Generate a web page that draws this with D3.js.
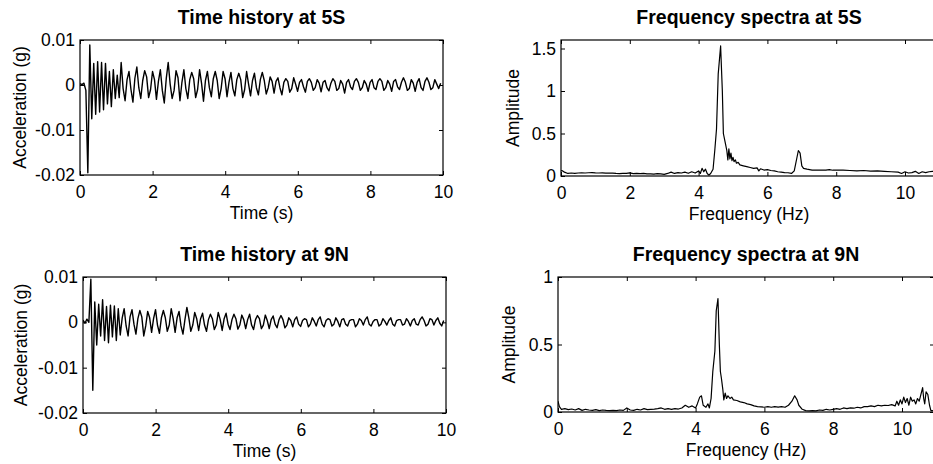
<!DOCTYPE html>
<html>
<head>
<meta charset="utf-8">
<script src="https://cdn.jsdelivr.net/npm/d3@7"></script>
<style>
  body { margin: 0; background: #fff; }
  svg { display: block; font-family: "Liberation Sans", Arial, Helvetica, sans-serif; }
</style>
</head>
<body>
<script>
// sample step of the time histories (s)
const dt = 0.054;

// acceleration at 5S (g)
const acc5S = [
  0.0003, 0.0001, 0.0004, -0.0012,
  -0.0195, 0.0089, -0.0075, 0.0048,
  -0.0065, 0.0052, -0.0060, 0.0050,
  -0.0055, 0.0048, -0.0042, 0.0030,
  -0.0048, 0.0034, -0.0030, 0.0022,
  -0.0028, 0.0050, -0.0008, -0.0035,
  0.0012, 0.0030, -0.0010, -0.0038,
  0.0015, 0.0040, -0.0006, -0.0030,
  0.0010, 0.0032, 0.0018, -0.0028,
  -0.0010, 0.0030, 0.0012, -0.0032,
  0.0008, 0.0034, -0.0012, -0.0040,
  0.0014, 0.0050, 0.0002, -0.0030,
  -0.0012, 0.0032, 0.0016, -0.0035,
  0.0006, 0.0034, -0.0008, -0.0030,
  0.0012, 0.0028, 0.0014, -0.0028,
  -0.0010, 0.0034, 0.0004, -0.0036,
  0.0010, 0.0030, -0.0006, -0.0026,
  0.0014, 0.0030, 0.0010, -0.0030,
  -0.0008, 0.0030, 0.0014, -0.0026,
  0.0006, 0.0028, -0.0008, -0.0024,
  0.0012, 0.0026, 0.0012, -0.0028,
  -0.0010, 0.0030, 0.0002, -0.0024,
  0.0010, 0.0026, -0.0006, -0.0022,
  0.0012, 0.0028, 0.0010, -0.0020,
  -0.0006, 0.0018, 0.0008, -0.0018,
  0.0008, 0.0016, -0.0006, -0.0022,
  0.0006, 0.0014, 0.0008, -0.0016,
  -0.0008, 0.0016, 0.0002, -0.0014,
  0.0006, 0.0012, -0.0004, -0.0016,
  0.0008, 0.0014, 0.0006, -0.0012,
  -0.0006, 0.0012, 0.0004, -0.0015,
  0.0006, 0.0010, -0.0006, -0.0013,
  0.0004, 0.0014, 0.0008, -0.0012,
  -0.0008, 0.0010, 0.0002, -0.0018,
  0.0006, 0.0012, -0.0004, -0.0010,
  0.0008, 0.0014, 0.0006, -0.0012,
  -0.0006, 0.0010, 0.0002, -0.0014,
  0.0006, 0.0012, -0.0006, -0.0010,
  0.0008, 0.0014, 0.0008, -0.0012,
  -0.0006, 0.0010, 0.0002, -0.0014,
  0.0008, 0.0012, -0.0004, -0.0010,
  0.0006, 0.0016, 0.0006, -0.0012,
  -0.0008, 0.0012, 0.0004, -0.0014,
  0.0006, 0.0014, -0.0006, -0.0012,
  0.0008, 0.0016, 0.0006, -0.0010,
  -0.0006, 0.0012, 0.0002, -0.0008, 0.0004
];

// acceleration at 9N (g)
const acc9N = [
  0.0005, -0.0002, 0.0007, 0.0000,
  0.0095, -0.0150, 0.0045, -0.0050,
  0.0040, -0.0030, 0.0050, -0.0040,
  0.0035, -0.0045, 0.0038, -0.0032,
  0.0036, -0.0040, 0.0030, -0.0028,
  0.0010, 0.0030, -0.0008, -0.0030,
  0.0012, 0.0028, -0.0004, -0.0026,
  0.0008, 0.0026, 0.0012, -0.0030,
  -0.0008, 0.0024, 0.0010, -0.0022,
  0.0008, 0.0028, -0.0006, -0.0024,
  0.0010, 0.0026, 0.0010, -0.0020,
  -0.0006, 0.0030, 0.0008, -0.0022,
  0.0010, 0.0024, -0.0008, -0.0026,
  0.0006, 0.0033, 0.0010, -0.0020,
  -0.0006, 0.0022, 0.0008, -0.0018,
  0.0008, 0.0020, -0.0006, -0.0020,
  0.0006, 0.0018, 0.0008, -0.0016,
  -0.0006, 0.0022, 0.0006, -0.0018,
  0.0008, 0.0020, -0.0004, -0.0016,
  0.0006, 0.0018, 0.0008, -0.0015,
  -0.0006, 0.0016, 0.0006, -0.0014,
  0.0006, 0.0018, -0.0006, -0.0016,
  0.0006, 0.0015, 0.0008, -0.0014,
  -0.0006, 0.0016, 0.0004, -0.0014,
  0.0006, 0.0014, -0.0004, -0.0012,
  0.0006, 0.0015, 0.0006, -0.0012,
  -0.0006, 0.0010, 0.0004, -0.0010,
  0.0006, 0.0012, -0.0004, -0.0009,
  0.0004, 0.0008, 0.0006, -0.0010,
  -0.0004, 0.0010, 0.0002, -0.0008,
  0.0006, 0.0012, -0.0004, -0.0010,
  0.0004, 0.0008, 0.0006, -0.0008,
  -0.0004, 0.0010, 0.0002, -0.0010,
  0.0006, 0.0008, -0.0004, -0.0008,
  0.0004, 0.0006, 0.0006, -0.0010,
  -0.0004, 0.0008, 0.0004, -0.0006,
  0.0006, 0.0012, -0.0004, -0.0008,
  0.0002, 0.0006, 0.0006, -0.0008,
  -0.0004, 0.0008, 0.0002, -0.0006,
  0.0004, 0.0010, -0.0004, -0.0008,
  0.0004, 0.0006, 0.0006, -0.0006,
  -0.0004, 0.0008, 0.0002, -0.0008,
  0.0004, 0.0008, -0.0004, -0.0006,
  0.0006, 0.0012, 0.0004, -0.0008,
  -0.0004, 0.0008, 0.0006, -0.0006,
  0.0004, 0.0010, -0.0002, -0.0008, 0.0004
];

// frequency spectra (Hz, amplitude)
const freq5S = [0, 0.05, 0.1, 0.2, 0.3, 0.4, 0.5, 0.6, 0.7, 0.8, 0.9, 1.0, 1.1, 1.2, 1.3, 1.4, 1.5, 1.6, 1.7, 1.8, 1.9,
  2.0, 2.1, 2.2, 2.3, 2.4, 2.5, 2.6, 2.7, 2.8, 2.9, 3.0, 3.1, 3.2, 3.3, 3.4, 3.5, 3.6, 3.7, 3.8, 3.9,
  4.0, 4.05, 4.1, 4.15, 4.2, 4.25, 4.3, 4.35, 4.42, 4.47, 4.52, 4.57, 4.64, 4.69, 4.72, 4.78, 4.82, 4.85, 4.88, 4.91, 4.94, 4.97,
  5.0, 5.03, 5.07, 5.1, 5.15, 5.2, 5.3, 5.4, 5.5, 5.6, 5.7, 5.75, 5.8, 5.9, 6.0, 6.1, 6.2, 6.3, 6.4, 6.5, 6.6, 6.7,
  6.78, 6.85, 6.9, 6.95, 7.0, 7.05, 7.15, 7.3, 7.5, 7.7, 7.8, 7.9, 8.0, 8.2, 8.4, 8.6, 8.8, 9.0, 9.2, 9.4, 9.6, 9.8,
  9.9, 10.0, 10.1, 10.2, 10.3, 10.4, 10.5, 10.6, 10.7, 10.8, 10.9];
const amp5S = [0.065, 0.06, 0.045, 0.03, 0.035, 0.03, 0.035, 0.038, 0.035, 0.038, 0.04, 0.036, 0.035, 0.036, 0.033, 0.035, 0.034, 0.03, 0.028, 0.032, 0.03,
  0.036, 0.028, 0.032, 0.027, 0.03, 0.024, 0.026, 0.022, 0.028, 0.024, 0.02, 0.03, 0.045, 0.03, 0.04, 0.035, 0.045, 0.032, 0.05, 0.035,
  0.06, 0.03, 0.09, 0.05, 0.08, 0.03, 0.01, 0.03, 0.08, 0.3, 0.55, 1.2, 1.53, 1.0, 0.5, 0.38, 0.3, 0.19, 0.32, 0.2, 0.27, 0.18,
  0.22, 0.17, 0.19, 0.15, 0.16, 0.13, 0.12, 0.11, 0.1, 0.09, 0.095, 0.06, 0.085, 0.07, 0.075, 0.065, 0.06, 0.05, 0.045, 0.04, 0.038, 0.03,
  0.06, 0.2, 0.3, 0.27, 0.12, 0.09, 0.08, 0.07, 0.068, 0.07, 0.075, 0.068, 0.07, 0.068, 0.065, 0.06, 0.065, 0.058, 0.06, 0.055, 0.05, 0.045,
  0.03, 0.05, 0.035, 0.04, 0.055, 0.03, 0.05, 0.04, 0.05, 0.055, 0.05];

const freq9N = [0, 0.04, 0.1, 0.2, 0.3, 0.4, 0.5, 0.6, 0.7, 0.8, 0.9, 1.0, 1.1, 1.2, 1.3, 1.4, 1.5, 1.6, 1.7, 1.8, 1.9,
  2.0, 2.1, 2.2, 2.3, 2.4, 2.5, 2.6, 2.7, 2.8, 2.9, 3.0, 3.1, 3.2, 3.3, 3.4, 3.5, 3.6, 3.7, 3.8, 3.9,
  4.0, 4.05, 4.12, 4.17, 4.22, 4.3, 4.36, 4.4, 4.45, 4.5, 4.56, 4.6, 4.65, 4.69, 4.72, 4.75, 4.79, 4.82, 4.86, 4.9, 4.94,
  5.0, 5.05, 5.1, 5.2, 5.3, 5.4, 5.5, 5.6, 5.7, 5.8, 5.9, 6.0, 6.1, 6.2, 6.3, 6.4, 6.5, 6.6, 6.7, 6.8, 6.88, 6.95,
  7.0, 7.1, 7.2, 7.3, 7.4, 7.5, 7.6, 7.7, 7.8, 7.9, 8.0, 8.1, 8.2, 8.3, 8.4, 8.5, 8.6, 8.7, 8.8, 8.9,
  9.0, 9.1, 9.2, 9.3, 9.4, 9.5, 9.6, 9.7, 9.8, 9.85, 9.9, 9.95, 10.0, 10.05, 10.1, 10.15, 10.2, 10.25, 10.3, 10.35,
  10.4, 10.45, 10.5, 10.55, 10.6, 10.63, 10.66, 10.7, 10.75, 10.8, 10.84, 10.9];
const amp9N = [0.08, 0.04, 0.02, 0.025, 0.018, 0.022, 0.015, 0.025, 0.012, 0.02, 0.015, 0.012, 0.018, 0.01, 0.015, 0.012, 0.01, 0.012, 0.01, 0.015, 0.012,
  0.03, 0.015, 0.012, 0.02, 0.015, 0.025, 0.018, 0.02, 0.022, 0.025, 0.03, 0.02, 0.025, 0.02, 0.025, 0.022, 0.03, 0.05, 0.035, 0.045,
  0.03, 0.06, 0.11, 0.12, 0.05, 0.035, 0.06, 0.03, 0.1, 0.3, 0.45, 0.75, 0.84, 0.5, 0.3, 0.25, 0.17, 0.09, 0.14, 0.1, 0.12,
  0.1, 0.11, 0.09, 0.085, 0.075, 0.07, 0.06, 0.055, 0.045, 0.04, 0.038, 0.035, 0.04, 0.035, 0.04, 0.036, 0.04, 0.035, 0.05, 0.08, 0.12, 0.09,
  0.05, 0.02, 0.01, 0.008, 0.01, 0.008, 0.015, 0.012, 0.02, 0.015, 0.02, 0.025, 0.02, 0.03, 0.025, 0.03, 0.028, 0.035, 0.03, 0.04,
  0.04, 0.045, 0.04, 0.05, 0.045, 0.05, 0.048, 0.055, 0.045, 0.08, 0.05, 0.09, 0.06, 0.11, 0.07, 0.1, 0.05, 0.11, 0.08, 0.09,
  0.06, 0.1, 0.08, 0.13, 0.18, 0.1, 0.06, 0.15, 0.13, 0.05, 0.01, 0.01];

const timeTicks = [0, 2, 4, 6, 8, 10];
const freqTicks = [0, 2, 4, 6, 8, 10];
const accTicks = [-0.02, -0.01, 0, 0.01];
const amp5STicks = [0, 0.5, 1, 1.5];
const amp9NTicks = [0, 0.5, 1];

const width = 933, height = 464;

let svg = d3.select("body").append("svg")
    .attr("width", width)
    .attr("height", height);

function panel(box, xDomain, yDomain, xTicks, yTicks, pts, lw, title, xLabel, yLabel, yLabelX) {
    let x = d3.scaleLinear().domain(xDomain).range([box.left, box.right]);
    let y = d3.scaleLinear().domain(yDomain).range([box.bottom, box.top]);
    let g = svg.append("g");
    let fmt = d => String(d);
    let fs = "17.5px";

    let clipId = "clip" + Math.round(box.left) + "_" + Math.round(box.top);
    g.append("clipPath").attr("id", clipId)
        .append("rect")
        .attr("x", box.left).attr("y", box.top)
        .attr("width", box.right - box.left).attr("height", box.bottom - box.top);

    let line = d3.line().x(d => x(d[0])).y(d => y(d[1]));
    g.append("path")
        .datum(pts)
        .attr("clip-path", "url(#" + clipId + ")")
        .attr("fill", "none")
        .attr("stroke", "#000")
        .attr("stroke-width", lw)
        .attr("stroke-linejoin", "round")
        .attr("d", line);

    // axes, ticks pointing in like MATLAB
    g.append("g").attr("transform", `translate(0,${box.bottom})`)
        .call(d3.axisBottom(x).tickValues(xTicks).tickFormat(fmt).tickSizeInner(-4).tickSizeOuter(0).tickPadding(11));
    g.append("g").attr("transform", `translate(${box.left},0)`)
        .call(d3.axisLeft(y).tickValues(yTicks).tickFormat(fmt).tickSizeInner(-4).tickSizeOuter(0).tickPadding(5));
    g.append("g").attr("transform", `translate(0,${box.top})`)
        .call(d3.axisTop(x).tickValues(xTicks).tickFormat("").tickSizeInner(-4).tickSizeOuter(0));
    g.append("g").attr("transform", `translate(${box.right},0)`)
        .call(d3.axisRight(y).tickValues(yTicks).tickFormat("").tickSizeInner(-4).tickSizeOuter(0));
    g.selectAll(".domain").remove();
    g.selectAll(".tick line").attr("stroke", "#000");
    g.selectAll(".tick text")
        .attr("fill", "#000")
        .style("font-size", fs)
        .style("font-family", '"Liberation Sans", Arial, sans-serif');

    g.append("rect")
        .attr("x", box.left).attr("y", box.top)
        .attr("width", box.right - box.left).attr("height", box.bottom - box.top)
        .attr("fill", "none").attr("stroke", "#000").attr("stroke-width", 1.2);

    let cx = (box.left + box.right) / 2;
    g.append("text")
        .attr("x", cx).attr("y", box.top - 16)
        .attr("text-anchor", "middle")
        .style("font-size", "19.5px").style("font-weight", "bold")
        .text(title);
    g.append("text")
        .attr("x", cx).attr("y", box.bottom + 44)
        .attr("text-anchor", "middle")
        .style("font-size", fs)
        .text(xLabel);
    g.append("text")
        .attr("transform", `translate(${yLabelX},${(box.top + box.bottom) / 2}) rotate(-90)`)
        .attr("text-anchor", "middle")
        .style("font-size", fs)
        .text(yLabel);
}

let pts5S = acc5S.map((v, i) => [i * dt, v]);
let pts9N = acc9N.map((v, i) => [i * dt, v]);
let spec5S = freq5S.map((f, i) => [f, amp5S[i]]);
let spec9N = freq9N.map((f, i) => [f, amp9N[i]]);

panel({left: 80, right: 443, top: 40, bottom: 175}, [0, 10], [-0.02, 0.01], timeTicks, accTicks,
    pts5S, 1.4, "Time history at 5S", "Time (s)", "Acceleration (g)", 26);
panel({left: 561, right: 937, top: 40, bottom: 176}, [0, 10.93], [0, 1.6], freqTicks, amp5STicks,
    spec5S, 1.2, "Frequency spectra at 5S", "Frequency (Hz)", "Amplitude", 519);
panel({left: 83, right: 446, top: 277, bottom: 413}, [0, 10], [-0.02, 0.01], timeTicks, accTicks,
    pts9N, 1.4, "Time history at 9N", "Time (s)", "Acceleration (g)", 27);
panel({left: 558, right: 934, top: 277, bottom: 412}, [0, 10.93], [0, 1], freqTicks, amp9NTicks,
    spec9N, 1.2, "Frequency spectra at 9N", "Frequency (Hz)", "Amplitude", 515);
</script>
</body>
</html>
